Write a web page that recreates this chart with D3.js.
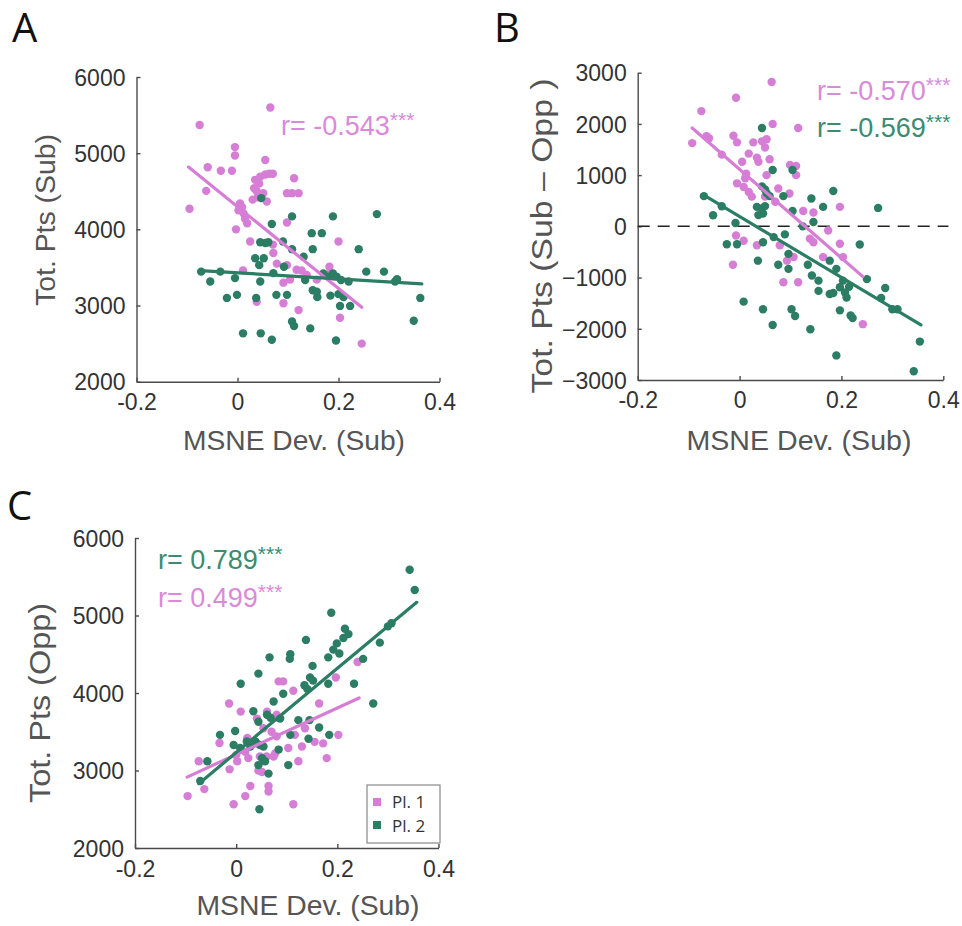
<!DOCTYPE html>
<html>
<head>
<meta charset="utf-8">
<script src="https://cdn.jsdelivr.net/npm/d3@7"></script>
<style>
  html, body { margin: 0; padding: 0; background: #fff; }
  svg { display: block; }
  text { font-family: "Liberation Sans", Arial, Helvetica, sans-serif; }
</style>
</head>
<body>
<svg id="chart" width="962" height="926"></svg>
<script>
// ---------------- DATA ----------------
const xTicks = [-0.2, 0, 0.2, 0.4];
const xTickLabels = ["-0.2", "0", "0.2", "0.4"];
const yTicksA = [2000, 3000, 4000, 5000, 6000];
const yTicksB = [-3000, -2000, -1000, 0, 1000, 2000, 3000];
const yTicksC = [2000, 3000, 4000, 5000, 6000];

const seriesNames = ["Pl. 1", "Pl. 2"];

// Panel A: Tot. Pts (Sub) vs MSNE Dev. (Sub)
const aPl1 = [[0.065,5600],[-0.075,5370],[-0.005,5080],[-0.005,4970],[0.055,4910],[-0.059,4815],[-0.033,4770],[-0.011,4770],[0.045,4690],[0.055,4720],[0.063,4730],[0.070,4730],[0.112,4670],[0.033,4540],[0.038,4500],[0.051,4475],[0.098,4475],[0.108,4475],[0.121,4475],[-0.062,4505],[-0.095,4270],[0.005,4340],[0.002,4250],[0.012,4210],[0.015,4140],[0.019,4080],[0.009,4290],[-0.003,4000],[0.058,4365],[0.098,4090],[0.025,3840],[0.070,3800],[0.071,3690],[0.200,3840],[0.078,3550],[0.098,3530],[0.117,3470],[0.127,3460],[0.011,3460],[0.182,3510],[0.038,3050],[0.091,3030],[0.121,2940],[0.203,2840],[0.246,2500],[0.091,3300],[0.104,3340],[0.137,3400],[0.157,3340],[0.190,3380],[0.183,3420],[0.030,4390],[0.040,4420],[0.043,4600],[0.035,4650]];
const aPl2 = [[0.047,4410],[0.108,4170],[0.189,4170],[0.276,4200],[0.068,4070],[0.147,3950],[0.167,3950],[0.045,3830],[0.055,3820],[0.061,3830],[0.090,3840],[0.108,3740],[0.149,3740],[0.240,3740],[0.035,3620],[0.052,3620],[0.043,3530],[0.131,3640],[-0.072,3445],[-0.034,3445],[0.092,3510],[-0.054,3315],[-0.005,3360],[0.045,3315],[0.071,3425],[0.134,3335],[0.170,3420],[0.180,3380],[0.189,3420],[0.196,3380],[0.205,3335],[0.220,3315],[0.255,3445],[0.290,3445],[0.312,3315],[0.316,3345],[0.149,3200],[0.157,3180],[0.184,3130],[0.200,3150],[0.210,3110],[-0.021,3100],[-0.001,3140],[0.037,3100],[0.077,3140],[0.098,3140],[0.158,3110],[0.203,2995],[0.223,2995],[0.362,3100],[0.108,2790],[0.112,2730],[0.144,2700],[0.349,2800],[0.011,2635],[0.046,2635],[0.068,2550],[0.195,2540]];
const aFitPl1 = [[-0.097,4817],[0.246,2977]];
const aFitPl2 = [[-0.074,3459],[0.365,3283]];

// Panel B: Tot. Pts (Sub - Opp) vs MSNE Dev. (Sub)
const bPl1 = [[0.063,2820],[-0.007,2510],[-0.075,2250],[0.065,2000],[0.115,1920],[-0.093,1625],[-0.065,1760],[-0.060,1720],[-0.035,1400],[-0.012,1770],[-0.005,1640],[0.027,1640],[0.044,1660],[0.053,1700],[0.050,1540],[0.018,1420],[0.034,1340],[0.037,1260],[0.059,1310],[0.005,1260],[0.013,1030],[0.011,940],[-0.005,840],[0.008,770],[0.018,670],[0.024,580],[0.099,1200],[0.111,1180],[0.111,1000],[0.053,1000],[0.076,740],[0.098,640],[0.197,380],[0.050,580],[0.070,480],[0.125,300],[0.145,270],[0.174,-80],[-0.007,-180],[0.008,-280],[0.034,-370],[0.138,-240],[0.145,-310],[0.079,-370],[0.197,-340],[-0.013,-750],[0.093,-670],[0.106,-600],[0.086,-1090],[0.115,-1090],[0.164,-600],[0.203,-600],[0.242,-1910]];
const bPl2 = [[0.044,1920],[0.065,1100],[0.104,1100],[0.184,690],[0.272,360],[-0.070,590],[-0.035,393],[-0.052,216],[0.044,780],[0.050,720],[0.053,650],[0.059,590],[0.086,590],[0.141,544],[0.164,380],[0.034,380],[0.044,350],[0.050,395],[0.037,220],[0.046,250],[0.104,300],[0.145,85],[0.124,0],[-0.008,65],[-0.025,-350],[-0.005,-350],[0.046,-310],[0.067,-210],[0.089,-157],[0.096,-537],[0.236,-354],[0.036,-670],[0.076,-750],[0.096,-830],[0.134,-750],[0.142,-960],[0.155,-1060],[0.177,-670],[0.190,-830],[0.203,-1060],[0.215,-1180],[0.250,-1030],[0.197,-1190],[0.207,-1290],[0.210,-1390],[0.177,-1320],[0.184,-1300],[0.155,-1260],[0.286,-1205],[0.278,-1400],[0.300,-1620],[0.310,-1620],[0.008,-1470],[0.046,-1620],[0.102,-1620],[0.109,-1750],[0.065,-1925],[0.139,-2010],[0.197,-1640],[0.218,-1740],[0.222,-1790],[0.190,-2520],[0.354,-2250],[0.342,-2830]];
const bFitPl1 = [[-0.093,1919],[0.242,-982]];
const bFitPl2 = [[-0.070,609],[0.356,-1925]];
const bZero = [0];

// Panel C: Tot. Pts (Opp) vs MSNE Dev. (Sub)
const cPl1 = [[0.240,4400],[0.197,4200],[0.084,4150],[0.093,4150],[0.113,4030],[0.164,3865],[-0.014,3865],[0.009,3760],[0.061,3760],[0.080,3720],[0.083,3680],[0.041,3670],[-0.033,3355],[0.022,3420],[0.031,3370],[0.041,3350],[0.054,3545],[0.070,3500],[0.080,3440],[0.116,3460],[0.136,3545],[0.155,3370],[0.172,3350],[0.202,3460],[-0.074,3120],[0.000,3200],[0.002,3120],[0.018,3240],[0.024,3160],[0.047,3180],[0.060,3180],[0.074,3180],[0.077,3220],[0.103,3290],[0.130,3310],[0.179,3160],[-0.013,3015],[0.044,3000],[0.051,2980],[0.123,3120],[-0.096,2670],[-0.063,2760],[0.028,2800],[0.064,2800],[0.064,2730],[0.018,2670],[-0.005,2565],[0.113,2565]];
const cPl2 = [[0.343,5590],[0.353,5330],[0.188,5035],[0.215,4830],[0.222,4760],[0.212,4710],[0.199,4640],[0.192,4560],[0.204,4510],[0.138,4685],[0.182,4460],[0.107,4500],[0.106,4440],[0.066,4460],[0.151,4350],[0.251,4440],[0.284,4650],[0.307,4900],[0.300,4860],[0.044,4250],[0.009,4120],[0.146,4200],[0.152,4160],[0.135,4100],[0.141,4050],[0.182,4120],[0.233,4120],[0.093,3990],[0.074,3890],[0.271,3865],[0.034,3765],[0.044,3630],[0.061,3720],[0.068,3680],[0.087,3670],[0.123,3650],[0.145,3650],[-0.002,3510],[-0.032,3460],[-0.005,3330],[0.008,3290],[0.021,3375],[0.028,3310],[0.038,3375],[0.047,3330],[0.054,3310],[0.107,3460],[0.143,3410],[0.164,3555],[0.184,3460],[0.084,3270],[0.051,3160],[0.057,3120],[0.044,3070],[0.103,3070],[-0.057,3120],[-0.071,2865],[0.064,2960],[0.046,2500]];
const cFitPl1 = [[-0.097,2915],[0.243,3936]];
const cFitPl2 = [[-0.074,2830],[0.357,5170]];

const rTextA = [{label: "r= -0.543", color: 0}];
const rTextB = [{label: "r= -0.570", color: 0}, {label: "r= -0.569", color: 1}];
const rTextC = [{label: "r= 0.789", color: 1}, {label: "r= 0.499", color: 0}];

// ---------------- STYLE ----------------
const dotColors = ["#d67ed6", "#2b7d63"];
const textColors = ["#d98ad9", "#3a8c72"];
const axisColor = "#4a4a4a";
const labelColor = "#333";
const titleColor = "#555";

const svg = d3.select("#chart");
svg.append("rect").attr("width", 962).attr("height", 926).attr("fill", "#fff");

function panel(cfg) {
  const x = d3.scaleLinear().domain([-0.2, 0.4]).range([cfg.x0, cfg.x1]);
  const y = d3.scaleLinear().domain(cfg.yDomain).range([cfg.y0, cfg.y1]);
  const g = svg.append("g");

  // axes
  const ax = g.append("g").attr("transform", `translate(0,${cfg.y0})`)
    .call(d3.axisBottom(x).tickValues(xTicks)
      .tickFormat((d, i) => xTickLabels[i])
      .tickSizeInner(-4).tickSizeOuter(0).tickPadding(cfg.xPad));
  const ay = g.append("g").attr("transform", `translate(${cfg.x0},0)`)
    .call(d3.axisLeft(y).tickValues(cfg.yTicks)
      .tickFormat(d3.format("d"))
      .tickSizeInner(-4).tickSizeOuter(0).tickPadding(11));
  [ax, ay].forEach(a => {
    a.select(".domain").attr("stroke", axisColor).attr("stroke-width", 1.4);
    a.selectAll(".tick line").attr("stroke", axisColor).attr("stroke-width", 1.4);
    a.selectAll(".tick text").attr("fill", labelColor).style("font-size", "23px")
      .style("font-family", "'Liberation Sans', Arial, sans-serif");
  });
  ay.selectAll(".tick text").attr("dy", "0.36em");

  // zero line
  if (cfg.zero) {
    g.selectAll(".zero").data(cfg.zero).enter().append("line")
      .attr("x1", x(-0.2)).attr("x2", x(0.41))
      .attr("y1", d => y(d)).attr("y2", d => y(d))
      .attr("stroke", "#222").attr("stroke-width", 1.5)
      .attr("stroke-dasharray", "12,8");
  }

  // points
  cfg.series.forEach((s, i) => {
    g.append("g").selectAll("circle").data(s).enter().append("circle")
      .attr("cx", d => x(d[0])).attr("cy", d => y(d[1]))
      .attr("r", 4.2).attr("fill", dotColors[i]);
  });
  // fit lines
  const line = d3.line().x(d => x(d[0])).y(d => y(d[1]));
  cfg.fits.forEach((f, i) => {
    g.append("path").datum(f).attr("d", line)
      .attr("fill", "none").attr("stroke", dotColors[i])
      .attr("stroke-width", 3.2).attr("stroke-linecap", "round");
  });

  // r texts
  cfg.rTexts.forEach((r, i) => {
    const t = g.append("text").attr("x", cfg.rx).attr("y", cfg.ry + i * cfg.rdy)
      .attr("fill", textColors[r.color]).style("font-size", "27px");
    t.append("tspan").text(r.label);
    t.append("tspan").text("***").style("font-size", "21px").attr("dy", "-0.4em");
  });

  // axis titles
  g.append("text").attr("x", cfg.xtx).attr("y", cfg.xty).attr("text-anchor", "middle")
    .attr("fill", titleColor).style("font-size", cfg.xtSize + "px")
    .attr("textLength", cfg.xtLen).attr("lengthAdjust", "spacingAndGlyphs")
    .text("MSNE Dev. (Sub)");
  g.append("text").attr("transform", `translate(${cfg.ytx},${cfg.yty}) rotate(-90)`)
    .attr("text-anchor", "middle").attr("dy", "0.35em")
    .attr("fill", titleColor).style("font-size", cfg.ytSize + "px")
    .attr("textLength", cfg.ytLen).attr("lengthAdjust", "spacingAndGlyphs")
    .text(cfg.yTitle);

  // panel letter
  g.append("text").attr("x", cfg.lx).attr("y", cfg.ly).attr("fill", "#111")
    .style("font-size", "40px").style("font-family", "'Open Sans', 'Liberation Sans', sans-serif")
    .text(cfg.letter);
  return {x, y, g};
}

panel({
  letter: "A", lx: 12, ly: 42,
  x0: 136.5, x1: 439.5, y0: 381.7, y1: 77, yDomain: [2000, 6000], yTicks: yTicksA,
  xPad: 12, series: [aPl1, aPl2], fits: [aFitPl1, aFitPl2],
  rTexts: rTextA, rx: 281, ry: 135, rdy: 37,
  xtx: 294, xty: 450, xtSize: 27, xtLen: 222,
  ytx: 46, yty: 220, ytSize: 27, ytLen: 172, yTitle: "Tot. Pts (Sub)"
});

panel({
  letter: "B", lx: 494, ly: 42,
  x0: 637.7, x1: 943.3, y0: 380, y1: 72.7, yDomain: [-3000, 3000], yTicks: yTicksB,
  xPad: 12, series: [bPl1, bPl2], fits: [bFitPl1, bFitPl2], zero: bZero,
  rTexts: rTextB, rx: 817, ry: 100, rdy: 37,
  xtx: 799, xty: 450, xtSize: 28, xtLen: 225,
  ytx: 541, yty: 236, ytSize: 30, ytLen: 315, yTitle: "Tot. Pts (Sub \u2013 Opp )"
});

panel({
  letter: "C", lx: 7, ly: 520,
  x0: 135, x1: 438.5, y0: 848, y1: 538, yDomain: [2000, 6000], yTicks: yTicksC,
  xPad: 13, series: [cPl1, cPl2], fits: [cFitPl1, cFitPl2],
  rTexts: rTextC, rx: 158, ry: 569, rdy: 38,
  xtx: 308, xty: 915, xtSize: 28, xtLen: 223,
  ytx: 40, yty: 703, ytSize: 29, ytLen: 200, yTitle: "Tot. Pts (Opp)"
});

// legend in panel C
const lg = svg.append("g").attr("transform", "translate(367,785)");
lg.append("rect").attr("width", 73).attr("height", 58)
  .attr("fill", "#fff").attr("stroke", "#888").attr("stroke-width", 1.2);
seriesNames.forEach((n, i) => {
  lg.append("rect").attr("x", 6).attr("y", 13 + i * 23).attr("width", 8).attr("height", 8)
    .attr("fill", dotColors[i]);
  lg.append("text").attr("x", 25).attr("y", 23 + i * 24).attr("fill", "#333")
    .style("font-size", "17px").style("font-family", "'Open Sans', 'Liberation Sans', sans-serif")
    .text(n);
});
</script>
</body>
</html>
